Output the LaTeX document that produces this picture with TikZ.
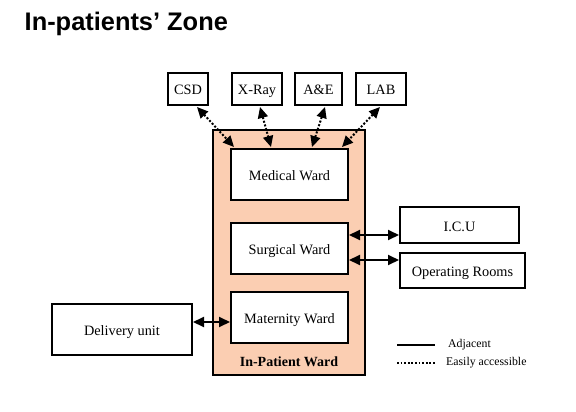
\documentclass[tikz,border=0pt]{standalone}
\usepackage{fontspec}
\setmainfont{Liberation Serif}
\newfontfamily\titlefont{Liberation Sans}
\usetikzlibrary{arrows.meta,calc}
\definecolor{peach}{RGB}{251,206,178}
\tikzset{
  box/.style={draw=black,line width=2pt,fill=white,inner sep=0pt,text height=12pt,text depth=0pt,font=\fontsize{14.3}{16}\selectfont},
  link/.style={line width=2pt,{Triangle[length=11pt,width=10pt]}-{Triangle[length=11pt,width=10pt]}},
  dotlink/.style={link,dash pattern=on 2pt off 1.8pt},
}
\begin{document}
\begin{tikzpicture}[x=1pt,y=-1pt]
\useasboundingbox (0,0) rectangle (576,412);
\node[anchor=base west,inner sep=0pt,font=\titlefont\bfseries\fontsize{25.4}{28}\selectfont] (title) at (24.5,31) {In-patients’ Zone};

\node[draw=black,line width=2pt,fill=peach,minimum width=152pt,minimum height=245pt,inner sep=0pt] (outer) at (289,252.5) {};
\node[font=\bfseries\fontsize{14}{15}\selectfont,text height=12pt,text depth=0pt,inner sep=0pt] (iplabel) at (289,360) {In-Patient Ward};

\node[box,minimum width=117pt,minimum height=51pt] (med) at (289.5,174.5) {Medical Ward};
\node[box,minimum width=117pt,minimum height=51pt] (surg) at (289.5,248.5) {Surgical Ward};
\node[box,minimum width=117pt,minimum height=51pt] (mat) at (289.5,317.5) {Maternity Ward};

\node[box,minimum width=40pt,minimum height=32pt] (csd) at (188,89) {CSD};
\node[box,minimum width=50pt,minimum height=32pt] (xray) at (257,89) {X-Ray};
\node[box,minimum width=47pt,minimum height=32pt] (ae) at (318.5,89) {A\&E};
\node[box,minimum width=50pt,minimum height=32pt] (lab) at (381,89) {LAB};

\node[box,minimum width=119pt,minimum height=36pt] (icu) at (459.5,225) {I.C.U};
\node[box,minimum width=125pt,minimum height=35pt] (or) at (462.5,270.5) {Operating Rooms};
\node[box,minimum width=140pt,minimum height=51pt] (del) at (122,329.5) {Delivery unit};

% dotted connectors
\draw[dotlink] ($(csd.south)+(9,1)$) -- ($(med.north west)+(4,-1)$);
\draw[dotlink] ($(xray.south)+(3,1)$) -- ($(med.north west)+(41,-1)$);
\draw[dotlink] ($(ae.south)+(6.5,1)$) -- ($(med.north west)+(82,-1)$);
\draw[dotlink] ($(lab.south)+(-1,1)$) -- ($(med.north west)+(112,-1)$);

% solid connectors
\draw[link] (surg.east |- 0,235) -- (icu.west |- 0,235);
\draw[link] (surg.east |- 0,260) -- (or.west |- 0,260);
\draw[link] (del.east |- 0,322) -- (mat.west |- 0,322);

% legend
\coordinate (la1) at (397,345);
\coordinate (la2) at (435,345);
\coordinate (lb1) at (397,363);
\coordinate (lb2) at (435,363);
\draw[line width=2pt] (la1) -- (la2);
\draw[line width=2pt,dash pattern=on 1.8pt off 1.8pt] (lb1) -- (lb2);
\node[anchor=west,inner sep=0pt,font=\fontsize{11.8}{13}\selectfont] (adj) at (448,345) {Adjacent};
\node[anchor=west,inner sep=0pt,font=\fontsize{11.8}{13}\selectfont] (eas) at (446,362.5) {Easily accessible};
\end{tikzpicture}
\end{document}
